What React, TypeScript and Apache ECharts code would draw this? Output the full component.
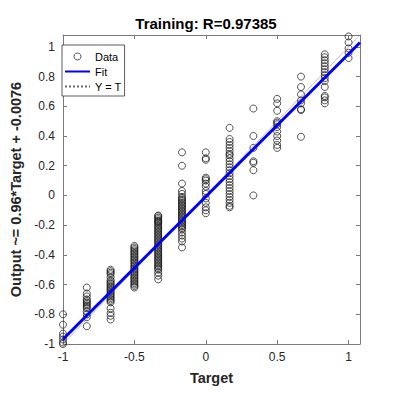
import React, { useEffect, useRef } from "react";
import * as echarts from "echarts";

const titleText = "Training: R=0.97385";
const xAxisTitle = "Target";
const yAxisTitle = "Output ~= 0.96*Target + -0.0076";
const fitSlope = 0.96;
const fitIntercept = -0.0076;
const axisMin = -1;
const axisMax = 1.08;

const targets = [-1, -0.8333, -0.6667, -0.5, -0.3333, -0.1667, 0, 0.1667, 0.3333, 0.5, 0.6667, 0.8333, 1];

const outM100 = [-0.8, -0.87, -0.93, -0.95, -0.97, -0.99, -1.0];
const outM083 = [-0.62, -0.66, -0.68, -0.7, -0.71, -0.72, -0.73, -0.74, -0.75, -0.76, -0.78, -0.8, -0.82, -0.88];
const outM067 = [-0.5, -0.51, -0.52, -0.53, -0.55, -0.57, -0.58, -0.59, -0.6, -0.61, -0.62, -0.63, -0.64, -0.65, -0.66, -0.67, -0.68, -0.69, -0.7, -0.71, -0.72, -0.76, -0.79, -0.81, -0.835];
const outM050 = [-0.34, -0.35, -0.36, -0.37, -0.38, -0.39, -0.4, -0.41, -0.42, -0.43, -0.44, -0.45, -0.46, -0.47, -0.48, -0.49, -0.5, -0.51, -0.52, -0.53, -0.54, -0.55, -0.56, -0.57, -0.58, -0.59, -0.6, -0.61, -0.62];
const outM033 = [-0.135, -0.14, -0.15, -0.16, -0.17, -0.175, -0.18, -0.19, -0.2, -0.21, -0.22, -0.23, -0.24, -0.25, -0.26, -0.27, -0.28, -0.29, -0.3, -0.31, -0.32, -0.33, -0.34, -0.35, -0.36, -0.37, -0.38, -0.39, -0.4, -0.41, -0.42, -0.43, -0.44, -0.45, -0.46, -0.47, -0.48, -0.49, -0.5, -0.52, -0.54, -0.565];
const outM017 = [0.29, 0.2, 0.08, 0.03, 0.01, -0.01, -0.02, -0.03, -0.04, -0.05, -0.06, -0.07, -0.08, -0.09, -0.1, -0.11, -0.12, -0.13, -0.14, -0.15, -0.16, -0.17, -0.18, -0.19, -0.2, -0.21, -0.22, -0.23, -0.25, -0.27, -0.29, -0.31, -0.35];
const out000 = [0.29, 0.25, 0.24, 0.12, 0.11, 0.1, 0.08, 0.06, 0.03, 0.01, -0.02, -0.05, -0.08, -0.1, -0.12];
const out017 = [0.455, 0.38, 0.36, 0.34, 0.32, 0.3, 0.28, 0.27, 0.25, 0.23, 0.21, 0.19, 0.17, 0.15, 0.13, 0.11, 0.09, 0.07, 0.05, 0.03, 0.01, -0.01, -0.03, -0.05, -0.07, -0.08];
const out033 = [0.585, 0.4, 0.32, 0.23, 0.22, 0.17, 0.0];
const out050 = [0.65, 0.62, 0.57, 0.5, 0.49, 0.48, 0.46, 0.43, 0.4, 0.37, 0.34, 0.32];
const out067 = [0.8, 0.73, 0.68, 0.64, 0.62, 0.58, 0.575, 0.395];
const out083 = [0.95, 0.93, 0.91, 0.89, 0.87, 0.85, 0.83, 0.81, 0.79, 0.77, 0.73, 0.67, 0.66, 0.64, 0.62];
const out100 = [1.07, 1.03, 0.99, 0.96, 0.925];

const outputsByTarget = [outM100, outM083, outM067, outM050, outM033, outM017, out000, out017, out033, out050, out067, out083, out100];

const axisColor = "#7a7a7a";
const labelColor = "#262626";

export default function App() {
  const ref = useRef<HTMLDivElement>(null);
  useEffect(() => {
    if (!ref.current) return;
    const chart = echarts.init(ref.current, null, { renderer: "svg" });
    const scatterData: number[][] = [];
    targets.forEach((t, i) => {
      outputsByTarget[i].forEach((o) => scatterData.push([t, o]));
    });
    const fitData = [
      [axisMin, fitSlope * axisMin + fitIntercept],
      [axisMax, fitSlope * axisMax + fitIntercept],
    ];
    const identData = [
      [axisMin, axisMin],
      [axisMax, axisMax],
    ];
    const hideOff = (step: number) => (v: number) => {
      const k = Math.round(v / step);
      if (Math.abs(k * step - v) > 1e-6) return "";
      return String(+v.toFixed(2));
    };
    const baseAxis = {
      min: axisMin,
      max: axisMax,
      axisLine: { show: true, onZero: false, lineStyle: { color: axisColor, width: 1 } },
      axisTick: { show: true, inside: true, length: 4, lineStyle: { color: axisColor, width: 1 } },
      splitLine: { show: false },
    };
    const hiddenSymbol = { color: "rgba(0,0,0,0)", borderWidth: 0, borderColor: "rgba(0,0,0,0)", opacity: 0 };
    chart.setOption({
      animation: false,
      backgroundColor: "#fff",
      title: {
        text: titleText,
        left: 206,
        top: 16,
        textAlign: "center",
        padding: 0,
        textStyle: { fontFamily: "Liberation Sans", fontSize: 15, fontWeight: "bold", color: "#000" },
      },
      grid: { left: 52, top: 35, width: 308, height: 309 },
      legend: {
        orient: "vertical",
        left: 62,
        top: 45,
        backgroundColor: "#fff",
        borderColor: "#333",
        borderWidth: 0.8,
        borderRadius: 0,
        padding: [6, 3, 4, 2],
        itemWidth: 25,
        itemHeight: 7,
        itemGap: 4,
        textStyle: { fontFamily: "Liberation Sans", fontSize: 11, color: "#000", lineHeight: 11 },
        data: [
          { name: "Data", itemStyle: { color: "rgba(0,0,0,0)", borderColor: "#111", borderWidth: 0.9 } },
          { name: "Fit", itemStyle: hiddenSymbol },
          { name: "Y = T", itemStyle: hiddenSymbol },
        ],
      },
      xAxis: [
        {
          ...baseAxis,
          type: "value",
          position: "bottom",
          interval: 0.5,
          name: xAxisTitle,
          nameLocation: "middle",
          nameGap: 26,
          nameTextStyle: { fontFamily: "Liberation Sans", fontSize: 14.5, fontWeight: "bold", color: "#262626" },
          axisLabel: { formatter: hideOff(0.5), fontFamily: "Liberation Sans", fontSize: 12, color: labelColor, margin: 7 },
        },
        {
          ...baseAxis,
          type: "value",
          position: "top",
          interval: 0.5,
          axisLabel: { show: false },
        },
      ],
      yAxis: [
        {
          ...baseAxis,
          type: "value",
          position: "left",
          interval: 0.2,
          name: yAxisTitle,
          nameLocation: "middle",
          nameGap: 40,
          nameTextStyle: { fontFamily: "Liberation Sans", fontSize: 14.5, fontWeight: "bold", color: "#262626" },
          axisLabel: { formatter: hideOff(0.2), fontFamily: "Liberation Sans", fontSize: 12, color: labelColor, margin: 8 },
        },
        {
          ...baseAxis,
          type: "value",
          position: "right",
          interval: 0.2,
          axisLabel: { show: false },
        },
      ],
      series: [
        {
          name: "Data",
          type: "scatter",
          data: scatterData,
          symbol: "circle",
          symbolSize: 7,
          itemStyle: { color: "rgba(0,0,0,0)", borderColor: "#111", borderWidth: 0.9 },
          z: 2,
        },
        {
          name: "Y = T",
          type: "line",
          data: identData,
          symbol: "none",
          lineStyle: { color: "#666", width: 0.8, type: "dotted" },
          itemStyle: { color: "#666" },
          z: 3,
        },
        {
          name: "Fit",
          type: "line",
          data: fitData,
          symbol: "none",
          lineStyle: { color: "#0000ff", width: 3 },
          itemStyle: { color: "#0000ff" },
          z: 4,
        },
      ],
    });
    return () => chart.dispose();
  }, []);
  return <div ref={ref} style={{ position: "fixed", left: 0, top: 0, width: 396, height: 396 }} />;
}
